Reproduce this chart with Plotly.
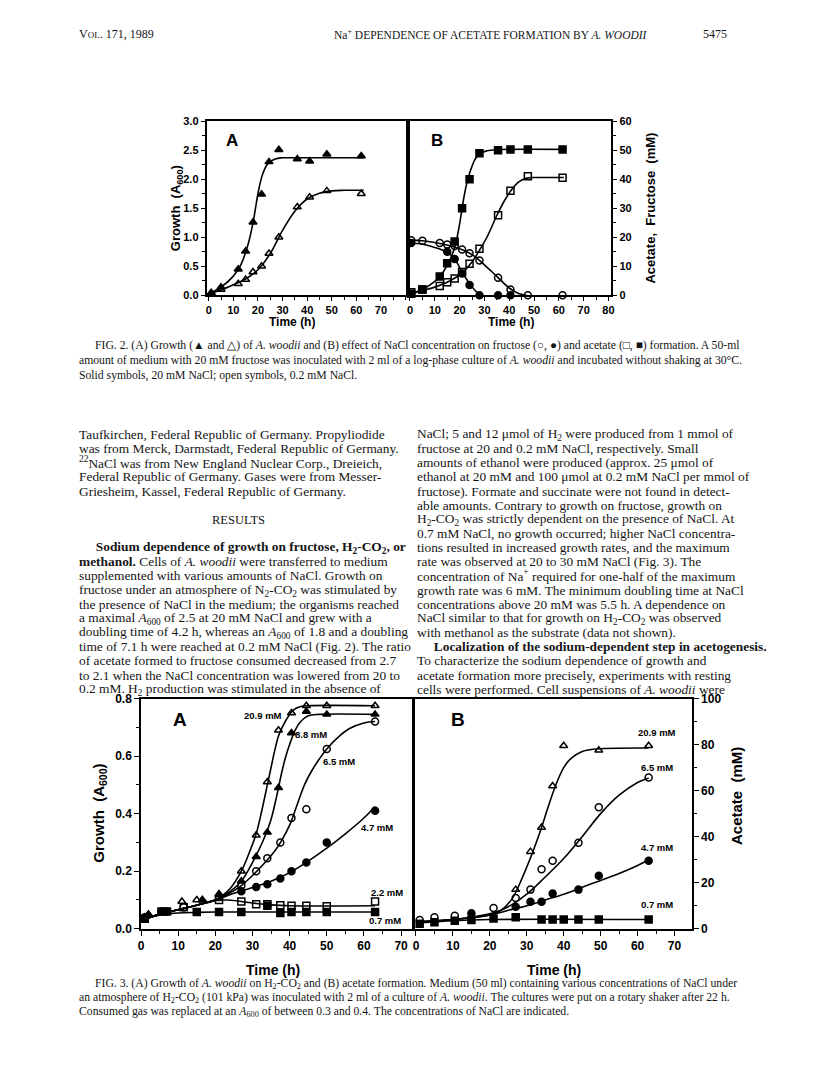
import plotly.graph_objects as go

# page is 816x1075; the browser adds an 8px body margin, so the figure is 16px smaller
PAGE_OFF = 8
W, H = 816 - 2 * PAGE_OFF, 1075 - 2 * PAGE_OFF
SERIF = "Liberation Serif"
SANS = "Liberation Sans"

# ---- Fig. 2A: growth on fructose (A600) ----
t2a = [1, 5, 12, 15, 18, 21.5, 24.5, 28.5, 36, 41, 48, 62]
growth_20 = [0.04, 0.14, 0.45, 0.76, 1.26, 1.74, 2.30, 2.51, 2.35, 2.31, 2.43, 2.40]
growth_02 = [0.04, 0.10, 0.20, 0.27, 0.40, 0.50, 0.72, 1.00, 1.52, 1.69, 1.80, 1.75]
fit2a_t20 = [0, 5, 10, 13, 16, 18, 19, 20, 21, 22, 24, 27, 30, 35, 63]
fit2a_20 = [0.03, 0.14, 0.33, 0.52, 0.88, 1.25, 1.5, 1.75, 1.95, 2.1, 2.27, 2.35, 2.37, 2.37, 2.37]
fit2a_t02 = [0, 5, 10, 15, 20, 25, 30, 35, 40, 45, 50, 55, 63]
fit2a_02 = [0.02, 0.09, 0.18, 0.28, 0.44, 0.72, 1.12, 1.45, 1.66, 1.76, 1.8, 1.81, 1.81]

# ---- Fig. 2B: fructose and acetate (mM) ----
t2b = [0.5, 5, 12, 15, 18, 21, 24, 28, 35.5, 40.5, 47.5, 61.5]
fru_02 = [19, 18.8, 18, 17.5, 17, 15.8, 14.5, 12, 6, 2, 0, 0]
t2b_fru20 = [0.5, 15, 18, 21, 24, 28, 35.5, 40.5]
fru_20 = [18, 15, 12.5, 7.5, 3.5, 0, 0, 0]
ace_02 = [1, 2, 3.2, 4.5, 5.8, 8, 10.9, 16, 27.6, 36, 41, 40.5]
ace_20 = [0.5, 2, 6.5, 11, 18.5, 30, 40, 49, 50, 50.3, 50.3, 50.3]
fit_ace20_t = [0, 5, 10, 13, 16, 18, 19, 20, 21, 22, 23, 24, 26, 28, 31, 35, 62]
fit_ace20 = [0.5, 2, 4.8, 7.5, 12, 16.5, 20, 24.5, 30, 35, 39, 42, 46.5, 48.8, 49.8, 50.2, 50.3]
fit_ace02_t = [0, 5, 10, 15, 20, 25, 28, 31, 35, 38, 41, 44, 47, 52, 62]
fit_ace02 = [0.5, 1.6, 2.8, 4.5, 7, 11.5, 15.5, 20, 27.5, 32.5, 36.5, 39.2, 40.4, 40.6, 40.6]
fit_fru02_t = [0, 5, 10, 15, 20, 25, 30, 35, 40, 44, 47]
fit_fru02 = [19, 18.8, 18.2, 17.3, 16, 14, 10.5, 6.5, 2.5, 0.5, 0]
fit_fru20_t = [0, 5, 10, 15, 18, 21, 24, 27, 29]
fit_fru20 = [18, 17.6, 16.5, 14.8, 12.5, 8, 4, 1, 0]

# ---- Fig. 3A: growth on H2-CO2 at different NaCl ----
s209_t = [1, 2, 11, 15, 16.5, 21, 27, 31, 34, 37, 40.5, 44.5, 50, 63]
s209 = [0.04, 0.05, 0.095, 0.1, 0.1, 0.12, 0.2, 0.325, 0.51, 0.69, 0.75, 0.775, 0.775, 0.775]
s88_t = [2, 16.5, 21, 27, 31, 34, 37, 40.5, 44.5, 50, 63]
s88 = [0.05, 0.1, 0.12, 0.165, 0.25, 0.335, 0.49, 0.68, 0.755, 0.745, 0.745]
s65_t = [1, 11.5, 21, 27, 31, 34, 37.5, 40.5, 44.5, 50, 63]
s65 = [0.04, 0.075, 0.11, 0.15, 0.2, 0.245, 0.3, 0.385, 0.415, 0.625, 0.72]
s47_t = [5.5, 7, 27, 31, 34, 37.5, 40.5, 44.5, 50, 63]
s47 = [0.06, 0.06, 0.13, 0.145, 0.155, 0.175, 0.2, 0.23, 0.3, 0.41]
s22_t = [1, 11.5, 21, 27, 31, 34, 37.5, 40.5, 44.5, 50, 63]
s22 = [0.035, 0.075, 0.1, 0.095, 0.085, 0.085, 0.082, 0.08, 0.08, 0.078, 0.095]
s07_t = [1, 5.5, 7, 15, 21, 27, 34, 37.5, 40.5, 44.5, 50, 63]
s07 = [0.035, 0.06, 0.06, 0.058, 0.058, 0.058, 0.08, 0.055, 0.058, 0.058, 0.058, 0.058]

c209_t = [0, 5, 10, 15, 20, 24, 27, 29, 31, 32.5, 34, 35, 36, 37, 38, 39.5, 41, 43, 45, 63]
c209 = [0.03, 0.05, 0.066, 0.082, 0.1, 0.14, 0.2, 0.26, 0.33, 0.41, 0.5, 0.56, 0.62, 0.67, 0.7, 0.735, 0.76, 0.772, 0.775, 0.775]
c88_t = [0, 5, 10, 15, 20, 24, 27, 30, 33, 35, 36.5, 38, 39, 40, 41.5, 43, 45, 48, 63]
c88 = [0.03, 0.05, 0.066, 0.082, 0.1, 0.13, 0.165, 0.23, 0.31, 0.38, 0.46, 0.55, 0.6, 0.64, 0.69, 0.72, 0.74, 0.745, 0.745]
c65_t = [0, 5, 10, 15, 20, 24, 27, 30, 33, 36, 38, 40, 42, 44, 46, 48, 50, 53, 56, 60, 63]
c65 = [0.03, 0.05, 0.066, 0.082, 0.1, 0.125, 0.15, 0.185, 0.225, 0.27, 0.31, 0.36, 0.43, 0.5, 0.55, 0.59, 0.625, 0.665, 0.695, 0.715, 0.72]
c47_t = [0, 5, 10, 15, 20, 25, 30, 35, 40, 45, 50, 55, 60, 63]
c47 = [0.03, 0.05, 0.066, 0.082, 0.1, 0.123, 0.143, 0.165, 0.195, 0.235, 0.28, 0.33, 0.385, 0.425]
c22_t = [0, 5, 10, 15, 20, 23, 27, 31, 35, 40, 63]
c22 = [0.03, 0.05, 0.066, 0.082, 0.098, 0.1, 0.095, 0.088, 0.083, 0.08, 0.08]
c07_t = [0, 3, 6, 10, 15, 20, 63]
c07 = [0.03, 0.042, 0.05, 0.055, 0.057, 0.058, 0.058]

# ---- Fig. 3B: acetate (mM) ----
b209_t = [27, 31, 34, 37, 40, 49.5, 63]
b209 = [17, 33.5, 44, 62, 79.5, 77.5, 79.5]
b65_t = [1, 5, 10.5, 21, 27, 31, 34, 37, 44, 49.5, 63]
b65 = [3.8, 5, 5.7, 9, 13.4, 17, 25.8, 29.5, 37.4, 52.8, 65.7]
b47_t = [15, 27, 31, 34, 37, 44, 49.5, 63]
b47 = [6.7, 9.6, 11.7, 11.7, 15.3, 17, 23, 29.5]
b07_t = [1, 5, 10.5, 15, 21, 27, 34, 37, 40, 44, 49.5, 63]
b07 = [2.2, 2.8, 3.5, 3.8, 4.5, 5, 4, 4, 4, 4, 4, 4]

cb209_t = [0, 10, 20, 23, 26, 29, 32, 34, 36, 38, 40, 42, 45, 48, 63]
cb209 = [3, 4, 6, 8, 13, 23, 35, 44, 54, 63, 70, 74, 77, 78, 78.5]
cb65_t = [0, 10, 20, 23, 26, 30, 35, 40, 45, 50, 55, 60, 63]
cb65 = [3, 4, 6.5, 8, 10.5, 15, 22.5, 30.5, 40, 50, 58, 63.5, 65.5]
cb47_t = [0, 10, 20, 25, 30, 35, 40, 45, 50, 55, 60, 63]
cb47 = [3, 4, 6, 8, 10, 12.5, 15, 18, 21, 24, 27.5, 30]
cb07_t = [0, 5, 10, 20, 63]
cb07 = [2.5, 3, 3.5, 4, 4]


fig = go.Figure()


def curve(x, y, ax):
    fig.add_trace(go.Scatter(x=x, y=y, mode="lines", xaxis="x" + ax, yaxis="y" + ax,
                             line=dict(color="black", width=1.6, shape="spline", smoothing=1.0),
                             showlegend=False, hoverinfo="skip", cliponaxis=False))


def points(x, y, ax, symbol, size=7):
    fig.add_trace(go.Scatter(x=x, y=y, mode="markers", xaxis="x" + ax, yaxis="y" + ax,
                             marker=dict(symbol=symbol, size=size, color="black",
                                         line=dict(color="black", width=1.5)),
                             showlegend=False, cliponaxis=False))


# fig 2A (axes "")
curve(fit2a_t20, fit2a_20, "")
curve(fit2a_t02, fit2a_02, "")
points(t2a, growth_20, "", "triangle-up")
points(t2a, growth_02, "", "triangle-up-open")
# fig 2B
curve(fit_ace20_t, fit_ace20, "2")
curve(fit_ace02_t, fit_ace02, "2")
curve(fit_fru02_t, fit_fru02, "2")
curve(fit_fru20_t, fit_fru20, "2")
points(t2b, ace_20, "2", "square")
points(t2b, ace_02, "2", "square-open")
points(t2b, fru_02, "2", "circle-open")
points(t2b_fru20, fru_20, "2", "circle")
# fig 3A
for cx, cy in [(c209_t, c209), (c88_t, c88), (c65_t, c65), (c47_t, c47), (c22_t, c22), (c07_t, c07)]:
    curve(cx, cy, "3")
points(s209_t, s209, "3", "triangle-up-open")
points(s88_t, s88, "3", "triangle-up")
points(s65_t, s65, "3", "circle-open")
points(s47_t, s47, "3", "circle")
points(s22_t, s22, "3", "square-open")
points(s07_t, s07, "3", "square")
# fig 3B
for cx, cy in [(cb209_t, cb209), (cb65_t, cb65), (cb47_t, cb47), (cb07_t, cb07)]:
    curve(cx, cy, "4")
points(b209_t, b209, "4", "triangle-up-open")
points(b65_t, b65, "4", "circle-open")
points(b47_t, b47, "4", "circle")
points(b07_t, b07, "4", "square")


def px_x(p):
    return (p - PAGE_OFF) / W


def px_y(p):
    return 1 - (p - PAGE_OFF) / H


def axis(x0, x1, rng, dtick, minor, tickformat=None, size=11, ticklen=5, **kw):
    d = dict(domain=[x0, x1], range=rng, dtick=dtick, tick0=0,
             showline=True, linecolor="black", linewidth=1.6, mirror=True,
             ticks="outside", ticklen=ticklen, tickwidth=1.3, tickcolor="black",
             minor=dict(dtick=minor, ticks="outside", ticklen=3, tickwidth=1, tickcolor="black"),
             showgrid=False, zeroline=False, fixedrange=True,
             tickfont=dict(family=SANS, size=size, color="black", weight="bold"))
    if tickformat:
        d["tickformat"] = tickformat
    d.update(kw)
    return d


fig.update_layout(
    width=W, height=H, autosize=False,
    margin=dict(l=0, r=0, t=0, b=0),
    paper_bgcolor="white", plot_bgcolor="white",
    xaxis=axis(px_x(205), px_x(408), [-0.9, 81], 10, 5, ticklen=4, anchor="y",
               tickvals=[0, 10, 20, 30, 40, 50, 60, 70]),
    yaxis=axis(px_y(292), px_y(115.7), [0, 3], 0.5, 0.25, ".1f", ticklen=4, anchor="x"),
    xaxis2=axis(px_x(408), px_x(613), [-0.8, 81.2], 10, 5, ticklen=4, anchor="y2"),
    yaxis2=axis(px_y(292), px_y(115.7), [0, 60], 10, 5, ticklen=4, anchor="x2", side="right"),
    xaxis3=axis(px_x(139), px_x(413), [0, 73.2], 10, 5, size=12, anchor="y3",
                tickvals=[0, 10, 20, 30, 40, 50, 60, 70]),
    yaxis3=axis(px_y(934), px_y(700.7), [0, 0.8], 0.2, 0.1, ".1f", size=12, anchor="x3"),
    xaxis4=axis(px_x(414), px_x(694), [-0.55, 74.7], 10, 5, size=12, anchor="y4"),
    yaxis4=axis(px_y(934), px_y(700.7), [0, 100], 20, 10, size=12, anchor="x4", side="right"),
)

ann = []


def txt(x, y, s, size=13.4, family=SERIF, anchor="left", angle=0, color="#151515"):
    ann.append(dict(x=px_x(x), y=px_y(y), xref="paper", yref="paper", text=s, showarrow=False,
                    xanchor=anchor, yanchor="middle", textangle=angle,
                    font=dict(family=family, size=size, color=color)))


def bold(x, y, s, size=13, anchor="center", angle=0):
    txt(x, y, "<b>" + s + "</b>", size=size, family=SANS, anchor=anchor, angle=angle, color="black")


# page header
txt(75, 27, "V<span style='font-size:9px'>OL</span>. 171, 1989", size=12)
txt(492, 27, "Na<sup>+</sup> DEPENDENCE OF ACETATE FORMATION BY <i>A. WOODII</i>", size=11.5, anchor="center")
txt(731, 27, "5475", size=12, anchor="right")

# fig 2 labels
bold(231, 135, "A", 17)
bold(437, 135, "B", 17)
bold(175, 204, "Growth  (A<sub>600</sub>)", 13, angle=-90)
bold(652, 204, "Acetate,  Fructose  (mM)", 13, angle=-90)
bold(291, 319, "Time (h)", 12)
bold(512, 319, "Time (h)", 12)

cap = 11.7
txt(91, 343, "FIG. 2. (A) Growth (▲ and △) of <i>A. woodii</i> and (B) effect of NaCl concentration on fructose (○, ●) and acetate (□, ■) formation. A 50-ml", cap)
txt(75, 358, "amount of medium with 20 mM fructose was inoculated with 2 ml of a log-phase culture of <i>A. woodii</i> and incubated without shaking at 30°C.", cap)
txt(75, 373, "Solid symbols, 20 mM NaCl; open symbols, 0.2 mM NaCl.", cap)

# body text
left_lines = [
    "Taufkirchen, Federal Republic of Germany. Propyliodide",
    "was from Merck, Darmstadt, Federal Republic of Germany.",
    "<sup>22</sup>NaCl was from New England Nuclear Corp., Dreieich,",
    "Federal Republic of Germany. Gases were from Messer-",
    "Griesheim, Kassel, Federal Republic of Germany.",
    "",
    "",
    "",
    "     <b>Sodium dependence of growth on fructose, H<sub>2</sub>-CO<sub>2</sub>, or</b>",
    "<b>methanol.</b> Cells of <i>A. woodii</i> were transferred to medium",
    "supplemented with various amounts of NaCl. Growth on",
    "fructose under an atmosphere of N<sub>2</sub>-CO<sub>2</sub> was stimulated by",
    "the presence of NaCl in the medium; the organisms reached",
    "a maximal <i>A</i><sub>600</sub> of 2.5 at 20 mM NaCl and grew with a",
    "doubling time of 4.2 h, whereas an <i>A</i><sub>600</sub> of 1.8 and a doubling",
    "time of 7.1 h were reached at 0.2 mM NaCl (Fig. 2). The ratio",
    "of acetate formed to fructose consumed decreased from 2.7",
    "to 2.1 when the NaCl concentration was lowered from 20 to",
    "0.2 mM. H<sub>2</sub> production was stimulated in the absence of",
]
right_lines = [
    "NaCl; 5 and 12 μmol of H<sub>2</sub> were produced from 1 mmol of",
    "fructose at 20 and 0.2 mM NaCl, respectively. Small",
    "amounts of ethanol were produced (approx. 25 μmol of",
    "ethanol at 20 mM and 100 μmol at 0.2 mM NaCl per mmol of",
    "fructose). Formate and succinate were not found in detect-",
    "able amounts. Contrary to growth on fructose, growth on",
    "H<sub>2</sub>-CO<sub>2</sub> was strictly dependent on the presence of NaCl. At",
    "0.7 mM NaCl, no growth occurred; higher NaCl concentra-",
    "tions resulted in increased growth rates, and the maximum",
    "rate was observed at 20 to 30 mM NaCl (Fig. 3). The",
    "concentration of Na<sup>+</sup> required for one-half of the maximum",
    "growth rate was 6 mM. The minimum doubling time at NaCl",
    "concentrations above 20 mM was 5.5 h. A dependence on",
    "NaCl similar to that for growth on H<sub>2</sub>-CO<sub>2</sub> was observed",
    "with methanol as the substrate (data not shown).",
    "     <b>Localization of the sodium-dependent step in acetogenesis.</b>",
    "To characterize the sodium dependence of growth and",
    "acetate formation more precisely, experiments with resting",
    "cells were performed. Cell suspensions of <i>A. woodii</i> were",
]
for i, s in enumerate(left_lines):
    if s:
        txt(75, 433 + i * 14.35, s)
for i, s in enumerate(right_lines):
    txt(415, 433 + i * 14.35, s)
txt(237, 520, "RESULTS", 12.5, anchor="center")

# fig 3 labels
bold(178, 722, "A", 19)
bold(458, 722, "B", 19)
bold(97, 817, "Growth  (A<sub>600</sub>)", 15, angle=-90)
bold(739, 800, "Acetate  (mM)", 15, angle=-90)
bold(272, 976, "Time (h)", 14)
bold(555, 976, "Time (h)", 14)

lab = 9.5
bold(262, 718, "20.9 mM", lab)
bold(310, 737, "8.8 mM", lab)
bold(338, 765, "6.5 mM", lab)
bold(377, 831, "4.7 mM", lab)
bold(387, 897, "2.2 mM", lab)
bold(385, 926, "0.7 mM", lab)
bold(659, 735, "20.9 mM", lab)
bold(659, 771, "6.5 mM", lab)
bold(659, 852, "4.7 mM", lab)
bold(659, 909, "0.7 mM", lab)

txt(91, 990, "FIG. 3. (A) Growth of <i>A. woodii</i> on H<sub>2</sub>-CO<sub>2</sub> and (B) acetate formation. Medium (50 ml) containing various concentrations of NaCl under", cap)
txt(75, 1004, "an atmosphere of H<sub>2</sub>-CO<sub>2</sub> (101 kPa) was inoculated with 2 ml of a culture of <i>A. woodii</i>. The cultures were put on a rotary shaker after 22 h.", cap)
txt(75, 1018, "Consumed gas was replaced at an <i>A</i><sub>600</sub> of between 0.3 and 0.4. The concentrations of NaCl are indicated.", cap)

fig.update_layout(annotations=ann)

fig.write_html("out.html")
